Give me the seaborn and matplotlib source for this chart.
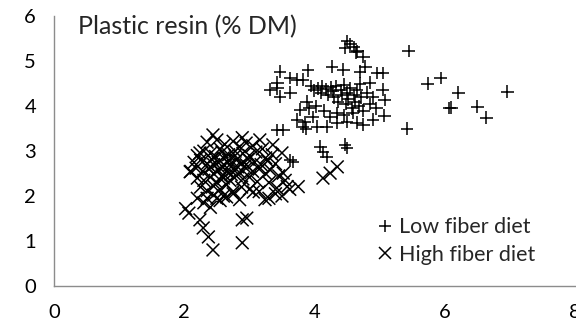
import matplotlib
matplotlib.use("Agg")
import matplotlib.pyplot as plt
import seaborn as sns
import pandas as pd

# ── Datos ────────────────────────────────────────────────────
low_x = [5.45, 5.74, 5.94, 6.21, 6.07, 6.10, 6.50, 6.64, 6.96, 5.42, 5.05, 5.05, 5.08, 5.07,
         4.50, 4.55, 4.47, 4.60, 4.63, 4.66, 4.75, 4.78,
         3.47, 3.63, 3.73, 3.82, 3.43, 3.32, 3.47, 3.63, 3.43, 3.90,
         4.27, 4.44, 4.70, 4.96, 4.85,
         3.95, 4.00, 4.05, 4.10, 4.12, 4.18, 4.20, 4.25, 4.28, 4.30, 4.33, 4.36, 4.40, 4.42,
         4.45, 4.48, 4.50, 4.52, 4.55, 4.58, 4.60, 4.62, 4.65, 4.68, 4.70, 4.72, 4.75, 4.80,
         4.85, 4.90, 3.88, 3.92, 4.02, 4.15, 4.35, 4.45,
         3.78, 3.73, 3.82, 3.87, 4.04, 4.19, 4.35, 4.50, 4.65, 4.75, 4.59, 4.24, 3.97, 3.43,
         3.52, 4.09, 4.13, 4.19, 4.47, 4.50, 3.63, 3.67, 3.85, 4.90, 4.95]
low_y = [5.23, 4.50, 4.63, 4.30, 3.96, 3.97, 3.99, 3.74, 4.32, 3.50, 4.74, 4.37, 4.14, 3.79,
         5.45, 5.38, 5.30, 5.32, 5.20, 5.22, 5.10, 4.88,
         4.77, 4.63, 4.59, 4.59, 4.52, 4.37, 4.21, 4.30, 4.40, 4.80,
         4.88, 4.81, 4.77, 4.74, 4.52,
         4.45, 4.35, 4.40, 4.30, 4.45, 4.38, 4.25, 4.42, 4.33, 4.20, 4.45, 4.10, 4.35, 4.25,
         4.48, 4.05, 4.30, 4.15, 4.40, 3.95, 4.25, 4.10, 4.35, 4.00, 4.50, 4.20, 3.90, 4.30,
         4.05, 4.20, 4.10, 3.95, 4.00, 3.90, 3.85, 3.80,
         3.92, 3.70, 3.54, 3.50, 3.54, 3.54, 3.63, 3.65, 3.63, 3.59, 3.85, 3.76, 3.76, 3.47,
         3.47, 3.10, 2.98, 2.87, 3.14, 3.07, 2.80, 2.76, 3.65, 3.70, 3.95]

high_x = [2.02, 2.07, 2.24, 2.29, 2.37, 2.44, 2.89, 2.89, 2.96, 3.24, 3.06, 3.42, 3.58, 3.75,
          4.13, 4.24, 4.35, 2.09, 2.24, 2.44, 2.89, 3.16, 3.36, 3.50, 3.32, 3.52,
          2.20, 2.30, 2.40, 2.50, 2.60, 2.75,
          2.35, 2.50, 2.62, 2.75, 2.85, 2.95, 3.05, 3.20, 2.55,
          2.20, 2.30, 2.40, 2.48, 2.58, 2.68, 2.78, 2.90, 3.00, 3.10, 3.25, 3.35,
          2.15, 2.25, 2.35, 2.42, 2.52, 2.60, 2.70, 2.80, 2.88, 2.98, 3.08, 3.18, 3.28, 3.40,
          2.10, 2.18, 2.28, 2.38, 2.45, 2.55, 2.65, 2.75, 2.85, 2.95, 3.05, 3.15, 3.25, 3.45,
          2.20, 2.30, 2.40, 2.50, 2.60, 2.70, 2.80, 2.90, 3.00, 3.12, 3.30, 3.55,
          2.25, 2.35, 2.45, 2.55, 2.65, 2.75, 2.88, 3.00, 3.15, 3.40, 3.62,
          2.35, 2.45, 2.55, 2.65, 2.85, 3.30, 3.50,
          2.45, 2.52, 2.62, 2.72, 2.82, 2.58, 2.68, 2.78, 2.40, 2.95]
high_y = [1.72, 1.62, 1.47, 1.29, 1.09, 0.80, 0.96, 1.47, 1.51, 1.92, 2.09, 2.18, 2.21, 2.21,
          2.40, 2.51, 2.65, 2.54, 2.96, 3.36, 3.30, 3.25, 3.14, 2.96, 2.58, 2.51,
          1.95, 1.85, 1.75, 1.95, 2.00, 2.05,
          3.20, 3.25, 3.15, 3.22, 3.10, 3.18, 3.12, 3.05, 3.05,
          2.90, 3.00, 2.95, 2.88, 2.98, 2.92, 3.00, 2.95, 2.90, 2.98, 2.85, 2.92,
          2.75, 2.80, 2.72, 2.82, 2.75, 2.85, 2.70, 2.80, 2.72, 2.82, 2.75, 2.70, 2.78, 2.72,
          2.55, 2.62, 2.55, 2.60, 2.50, 2.62, 2.55, 2.60, 2.52, 2.62, 2.55, 2.60, 2.50, 2.45,
          2.40, 2.35, 2.42, 2.30, 2.40, 2.35, 2.45, 2.38, 2.42, 2.32, 2.30, 2.35,
          2.20, 2.12, 2.22, 2.15, 2.25, 2.10, 2.20, 2.15, 2.10, 2.05, 2.15,
          1.95, 2.02, 1.90, 1.98, 1.92, 1.95, 2.00,
          2.70, 2.58, 2.68, 2.48, 2.65, 2.45, 2.80, 2.90, 2.65, 2.70]

x_ticks = [0, 2, 4, 6, 8]
y_ticks = [0, 1, 2, 3, 4, 5, 6]

df = pd.concat([
    pd.DataFrame({"x": low_x, "y": low_y, "dieta": "Low fiber diet"}),
    pd.DataFrame({"x": high_x, "y": high_y, "dieta": "High fiber diet"}),
])

# ── Gráfico ──────────────────────────────────────────────────
sns.set_style("white")
plt.rcParams["font.family"] = ["Lato", "DejaVu Sans"]

fig = plt.figure(figsize=(5.76, 3.34), dpi=100)
ax = fig.add_axes([0.094, 0.144, 0.904, 0.807])

sns.scatterplot(data=df, x="x", y="y", hue="dieta", style="dieta",
                markers={"Low fiber diet": "+", "High fiber diet": "x"},
                palette={"Low fiber diet": "black", "High fiber diet": "black"},
                s=85, linewidth=1.1, ax=ax, legend=True)

ax.set_xlim(0, 8)
ax.set_ylim(0, 6)
ax.set_xticks(x_ticks)
ax.set_yticks(y_ticks)
ax.set_xlabel("")
ax.set_ylabel("")
for side in ["top", "right"]:
    ax.spines[side].set_visible(False)
for side in ["left", "bottom"]:
    ax.spines[side].set_color("#8c8c8c")
    ax.spines[side].set_linewidth(1.0)
ax.tick_params(axis="both", direction="out", length=6, width=1.0,
               color="#8c8c8c", labelsize=14.5, labelcolor="black", pad=7)

ax.text(0.045, 1.005, "Plastic resin (% DM)", transform=ax.transAxes,
        fontsize=18, va="top", ha="left")

leg = ax.legend(loc="lower right", bbox_to_anchor=(0.948, 0.03), frameon=False,
                fontsize=15.5, handletextpad=0.25, borderaxespad=0.2,
                labelspacing=0.35, markerscale=1.0, handlelength=0.8)
leg.set_title(None)

fig.savefig("out.png", dpi=100)
